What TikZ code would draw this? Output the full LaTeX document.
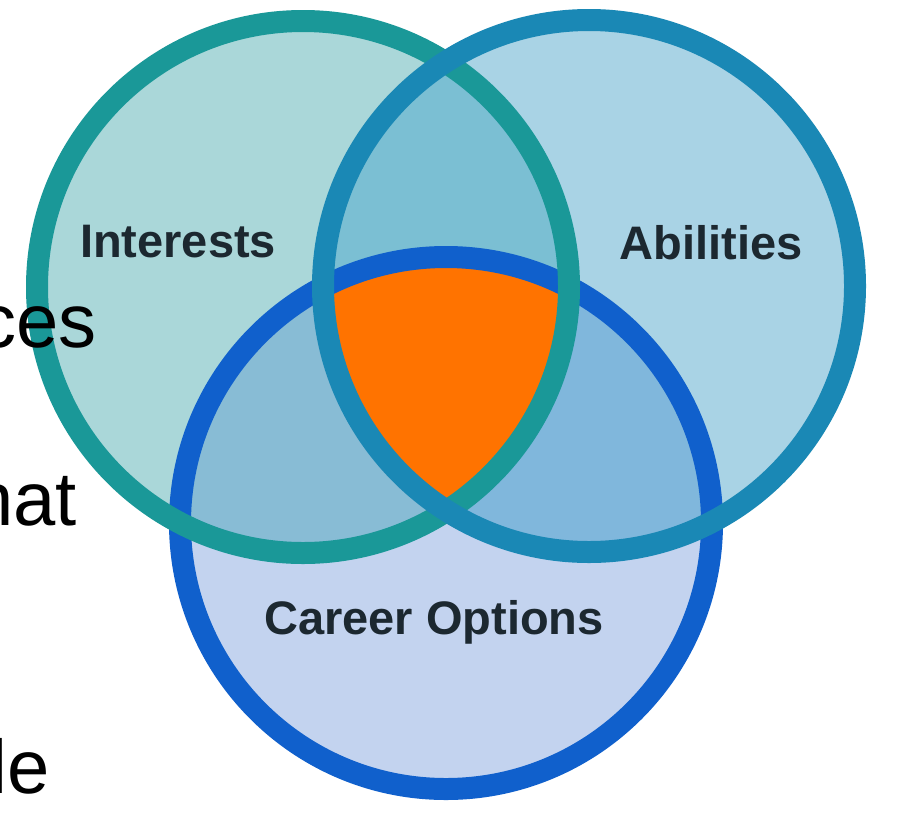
\documentclass[tikz,border=0pt]{standalone}
\usepackage{fontspec}
\setmainfont{Liberation Sans}
\definecolor{fillI}{HTML}{AAD7D9}
\definecolor{fillA}{HTML}{A9D3E5}
\definecolor{fillC}{HTML}{C3D3EF}
\definecolor{fillIA}{HTML}{7BBFD3}
\definecolor{fillIC}{HTML}{88BCD5}
\definecolor{fillAC}{HTML}{80B7DC}
\definecolor{core}{HTML}{FF7300}
\definecolor{ringI}{HTML}{1A9898}
\definecolor{ringA}{HTML}{1A88B5}
\definecolor{ringC}{HTML}{1060CC}
\definecolor{labtext}{HTML}{1C2830}
\begin{document}
\begin{tikzpicture}[x=1pt,y=-1pt,
  ring/.style={line width=22pt},
  lbl/.style={inner sep=0pt,text=labtext,font=\fontsize{47}{56}\selectfont\bfseries},
  side/.style={inner sep=0pt,anchor=base east,text=black,font=\fontsize{76}{90}\selectfont}]
\useasboundingbox[fill=white] (0,0) rectangle (917,814);
\coordinate (I) at (303,287);
\coordinate (A) at (589,286);
\coordinate (C) at (446,523);
% base fills
\fill[fillI] (I) circle[radius=266pt];
\fill[fillA] (A) circle[radius=266pt];
\fill[fillC] (C) circle[radius=266pt];
% pairwise overlaps
\begin{scope}
  \clip (I) circle[radius=266pt];
  \fill[fillIA] (A) circle[radius=266pt];
\end{scope}
\begin{scope}
  \clip (I) circle[radius=266pt];
  \fill[fillIC] (C) circle[radius=266pt];
\end{scope}
\begin{scope}
  \clip (A) circle[radius=266pt];
  \fill[fillAC] (C) circle[radius=266pt];
\end{scope}
% triple overlap
\begin{scope}
  \clip (I) circle[radius=266pt];
  \clip (A) circle[radius=266pt];
  \fill[core] (C) circle[radius=266pt];
\end{scope}
% rings
\draw[ring,ringC] (C) circle[radius=266pt];
\draw[ring,ringI] (I) circle[radius=266pt];
\draw[ring,ringA] (A) circle[radius=266pt];
% labels
\node[lbl] (li) at (178,242) {Interests};
\node[lbl] (la) at (711,243) {Abilities};
\node[lbl] (lc) at (434,622) {Career Options};
% slide text fragments at the left edge
\node[side] (t1) at (97,347) {ces};
\node[side] (t2) at (77,525) {hat};
\node[side] (t3) at (50,793) {le};
\end{tikzpicture}
\end{document}
